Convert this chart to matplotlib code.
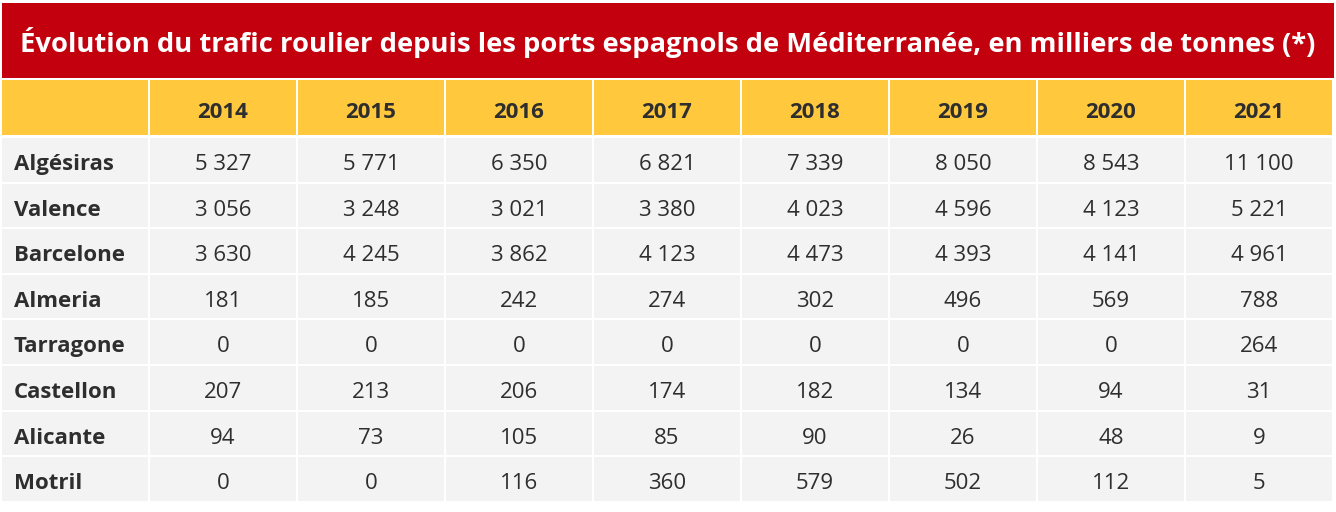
import matplotlib
matplotlib.use("Agg")
import matplotlib.pyplot as plt
from matplotlib.patches import Rectangle
from matplotlib import font_manager

title = "Évolution du trafic roulier depuis les ports espagnols de Méditerranée, en milliers de tonnes (*)"
years = ["2014", "2015", "2016", "2017", "2018", "2019", "2020", "2021"]
ports = ["Algésiras", "Valence", "Barcelone", "Almeria", "Tarragone", "Castellon", "Alicante", "Motril"]

algesiras = [5327, 5771, 6350, 6821, 7339, 8050, 8543, 11100]
valence = [3056, 3248, 3021, 3380, 4023, 4596, 4123, 5221]
barcelone = [3630, 4245, 3862, 4123, 4473, 4393, 4141, 4961]
almeria = [181, 185, 242, 274, 302, 496, 569, 788]
tarragone = [0, 0, 0, 0, 0, 0, 0, 264]
castellon = [207, 213, 206, 174, 182, 134, 94, 31]
alicante = [94, 73, 105, 85, 90, 26, 48, 9]
motril = [0, 0, 116, 360, 579, 502, 112, 5]

values = [algesiras, valence, barcelone, almeria, tarragone, castellon, alicante, motril]

RED = "#c3000d"
YELLOW = "#ffc83d"
CELL = "#f3f3f3"
TEXT = "#2e2e2e"
FS = 16

names = {f.name for f in font_manager.fontManager.ttflist}
title_font = "Liberation Sans Narrow" if "Liberation Sans Narrow" in names else "Open Sans"


def fmt(v):
    return f"{v:,}".replace(",", " ")


fig = plt.figure(figsize=(13.36, 5.12), dpi=100)
ax = fig.add_axes([0, 0, 1, 1])
ax.set_xlim(0, 1336)
ax.set_ylim(512, 0)
ax.axis("off")

# title bar
ax.add_patch(Rectangle((2, 3), 1332, 75, color=RED, lw=0))
t = ax.text(668, 52, title, color="white", fontsize=24, fontweight="bold",
            family=title_font, ha="center", va="baseline")
fig.canvas.draw()
w = t.get_window_extent().width
t.set_fontsize(24 * 1292 / w)

col0_x, col0_w = 2, 146
col_x0, col_pitch, col_w = 150, 148, 146
head_y, head_h = 80, 55
row_y0, row_pitch, row_h = 138, 45.6, 43.6

# header row
ax.add_patch(Rectangle((col0_x, head_y), col0_w, head_h, color=YELLOW, lw=0))
for j, yr in enumerate(years):
    x = col_x0 + j * col_pitch
    ax.add_patch(Rectangle((x, head_y), col_w, head_h, color=YELLOW, lw=0))
    ax.text(x + col_w / 2, head_y + 38, yr, fontsize=FS, fontweight="bold",
            family="Open Sans", color=TEXT, ha="center", va="baseline")

# body
for i, port in enumerate(ports):
    y = row_y0 + i * row_pitch
    ax.add_patch(Rectangle((col0_x, y), col0_w, row_h, color=CELL, lw=0))
    ax.text(14, y + 32, port, fontsize=FS, fontweight="bold",
            family="Open Sans", color=TEXT, ha="left", va="baseline")
    for j, v in enumerate(values[i]):
        x = col_x0 + j * col_pitch
        ax.add_patch(Rectangle((x, y), col_w, row_h, color=CELL, lw=0))
        ax.text(x + col_w / 2, y + 32, fmt(v), fontsize=FS,
                family="Open Sans", color=TEXT, ha="center", va="baseline")

fig.savefig("out.png", dpi=100, facecolor="white")
